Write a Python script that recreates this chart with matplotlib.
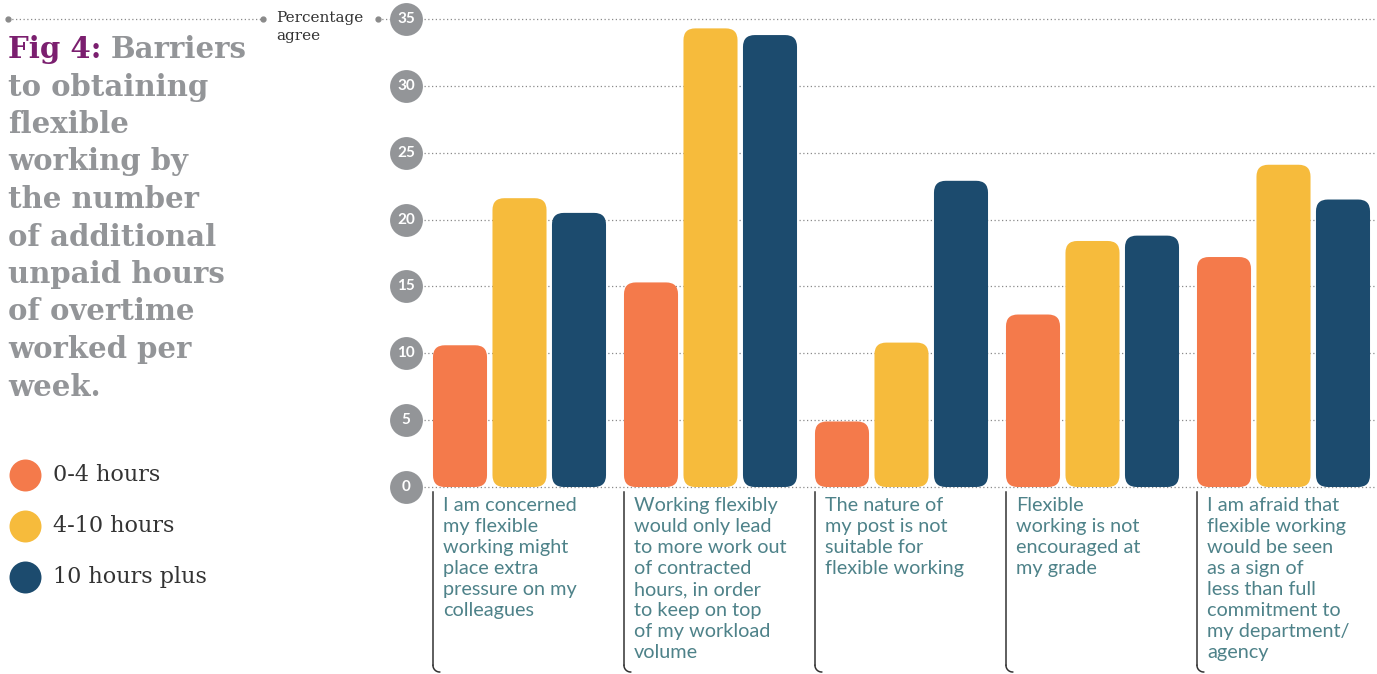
import matplotlib
matplotlib.use('Agg')
import matplotlib.pyplot as plt
from matplotlib.patches import FancyBboxPatch
import numpy as np

# data
categories = [
    "I am concerned\nmy flexible\nworking might\nplace extra\npressure on my\ncolleagues",
    "Working flexibly\nwould only lead\nto more work out\nof contracted\nhours, in order\nto keep on top\nof my workload\nvolume",
    "The nature of\nmy post is not\nsuitable for\nflexible working",
    "Flexible\nworking is not\nencouraged at\nmy grade",
    "I am afraid that\nflexible working\nwould be seen\nas a sign of\nless than full\ncommitment to\nmy department/\nagency",
]
series = ["0-4 hours", "4-10 hours", "10 hours plus"]
hrs_0_4 = [10.6, 15.3, 4.9, 12.9, 17.2]
hrs_4_10 = [21.6, 34.3, 10.8, 18.4, 24.1]
hrs_10_plus = [20.5, 33.8, 22.9, 18.8, 21.5]
yticks = [0, 5, 10, 15, 20, 25, 30, 35]

colours = ['#F47A4B', '#F6BB3C', '#1C4B6E']
GREY = '#939598'
PURPLE = '#7B1F6F'
TEAL = '#4E8289'
DARK = '#333333'

W, H = 1377, 674
fig = plt.figure(figsize=(W / 100, H / 100), dpi=100)
ax = fig.add_axes([0, 0, 1, 1])

# pixel -> data helpers (only for decoration placement)
def dx(px):
    return (px - 519.5) / 191.0

def dy(py):
    return (487 - py) / 13.371

ax.set_xlim(dx(0), dx(W))
ax.set_ylim(dy(H), dy(0))
ax.axis('off')

def fx(px):
    return px / W

def fy(py):
    return 1 - py / H

# gridlines + tick circles
ax.hlines(yticks, dx(424), dx(W), colors='#8a8a8a', linestyles=(0, (1, 2)), lw=0.9, zorder=1)
ax.scatter([dx(406)] * len(yticks), yticks, s=560, color=GREY, zorder=3, clip_on=False, linewidths=0)
for t in yticks:
    ax.text(dx(406), t, str(t), color='white', fontsize=11, fontweight='bold',
            family='Lato', ha='center', va='center', zorder=4)

# top rule with "Percentage agree"
ax.plot([dx(8), dx(263)], [35, 35], color='#8a8a8a', ls=(0, (1, 2)), lw=0.9, clip_on=False)
ax.plot([dx(8), dx(263), dx(378)], [35, 35, 35], 'o', color='#8a8a8a', ms=3.5, clip_on=False)
ax.plot([dx(378), dx(390)], [35, 35], color='#8a8a8a', ls=(0, (1, 2)), lw=0.9, clip_on=False)
fig.text(fx(276), fy(11), "Percentage\nagree", fontsize=11, family='DejaVu Serif',
         color=DARK, ha='left', va='top', linespacing=1.4)

# bars
slot = 0.3115
bw = 0.283
r = 0.062
asp = 191.0 / 13.371
for j, vals in enumerate([hrs_0_4, hrs_4_10, hrs_10_plus]):
    for i, v in enumerate(vals):
        x = i + (j - 1) * slot
        p = FancyBboxPatch((x - bw / 2, 0), bw, v,
                           boxstyle=f"round,pad=0,rounding_size={r}",
                           mutation_aspect=asp, facecolor=colours[j],
                           edgecolor='none', zorder=2)
        ax.add_patch(p)

# category labels with bracket lines
rr = 0.035
for i, lab in enumerate(categories):
    x0 = i - slot - bw / 2
    ytop = dy(492)
    ybot = dy(672)
    th = np.linspace(np.pi, 1.5 * np.pi, 20)
    ax.plot([x0, x0], [ytop, ybot + rr * asp], color=DARK, lw=1.1, clip_on=False)
    ax.plot(x0 + rr + rr * np.cos(th), ybot + rr * asp + rr * asp * np.sin(th),
            color=DARK, lw=1.1, clip_on=False)
    ax.text(x0 + dx(443) - dx(433), dy(497), lab, color=TEAL, fontsize=14.3,
            family='Lato', ha='left', va='top', linespacing=1.29)

# title
title_lines = ["Barriers", "to obtaining", "flexible", "working by", "the number",
               "of additional", "unpaid hours", "of overtime", "worked per", "week."]
tfont = dict(fontsize=21, family='DejaVu Serif', fontweight='bold')
t0 = fig.text(fx(8), fy(58), "Fig 4:", color=PURPLE, va='baseline', ha='left', **tfont)
fig.canvas.draw()
bb = t0.get_window_extent()
fig.text(fx(bb.x1 + 9), fy(58), title_lines[0], color=GREY, va='baseline', ha='left', **tfont)
for k, line in enumerate(title_lines[1:]):
    fig.text(fx(8), fy(58 + 37.5 * (k + 1)), line, color=GREY, va='baseline', ha='left', **tfont)

# legend
for k, (name, c) in enumerate(zip(series, colours)):
    yy = 475 + 51 * k
    ax.scatter([dx(25)], [dy(yy)], s=530, color=c, clip_on=False, linewidths=0)
    fig.text(fx(53), fy(yy), name, fontsize=16, family='DejaVu Serif', color=DARK,
             ha='left', va='center')

fig.savefig('out.png', dpi=100)
